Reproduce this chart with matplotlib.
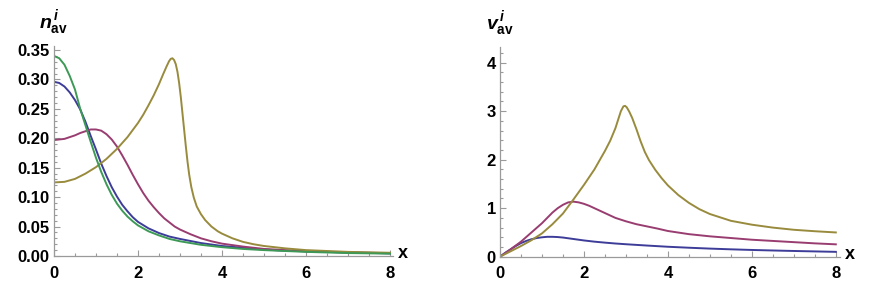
import numpy as np
import matplotlib
matplotlib.use("Agg")
import matplotlib.pyplot as plt
from matplotlib.ticker import MultipleLocator, FormatStrFormatter

plt.rcParams['font.family'] = ['Liberation Sans', 'DejaVu Sans']
plt.rcParams['mathtext.fontset'] = 'custom'
plt.rcParams['mathtext.it'] = 'Liberation Sans:italic:bold'
plt.rcParams['mathtext.rm'] = 'Liberation Sans:bold'
plt.rcParams['mathtext.bf'] = 'Liberation Sans:bold'

# left panel: n_av^i
n_blue_x = [0, 0.125, 0.25, 0.375, 0.5, 0.625, 0.75, 0.875, 1.0, 1.125, 1.25, 1.375, 1.5,
            1.625, 1.75, 1.875, 2.0, 2.25, 2.5, 2.75, 3.0, 3.5, 4, 4.5, 5, 5.5, 6, 7, 8]
n_blue_y = [0.296, 0.294, 0.288, 0.278, 0.265, 0.249, 0.228, 0.204, 0.181, 0.157, 0.136,
            0.117, 0.101, 0.087, 0.076, 0.066, 0.058, 0.047, 0.039, 0.033, 0.029, 0.022,
            0.017, 0.014, 0.011, 0.009, 0.008, 0.006, 0.0045]

n_purple_x = [0, 0.25, 0.5, 0.625, 0.75, 0.875, 1.0, 1.125, 1.25, 1.375, 1.5, 1.625, 1.75,
              1.875, 2.0, 2.125, 2.25, 2.375, 2.5, 2.625, 2.75, 2.875, 3.0, 3.25, 3.5,
              3.75, 4, 4.5, 5, 5.5, 6, 7, 8]
n_purple_y = [0.197, 0.199, 0.205, 0.209, 0.212, 0.215, 0.215, 0.213, 0.207, 0.198, 0.186,
              0.171, 0.155, 0.138, 0.122, 0.107, 0.094, 0.083, 0.073, 0.064, 0.057, 0.050,
              0.045, 0.037, 0.030, 0.025, 0.021, 0.016, 0.012, 0.010, 0.008, 0.006, 0.0048]

n_olive_x = [0, 0.25, 0.5, 0.75, 1.0, 1.25, 1.5, 1.75, 2.0, 2.125, 2.25, 2.375, 2.5, 2.6,
             2.68, 2.74, 2.78, 2.82, 2.86, 2.9, 2.94, 2.98, 3.02, 3.06, 3.1, 3.14, 3.18,
             3.22, 3.27, 3.33, 3.4, 3.5, 3.6, 3.75, 3.9, 4.0, 4.25, 4.5, 4.75, 5.0, 5.5,
             6.0, 7.0, 8.0]
n_olive_y = [0.125, 0.126, 0.131, 0.140, 0.151, 0.165, 0.182, 0.202, 0.226, 0.240, 0.256,
             0.273, 0.292, 0.309, 0.322, 0.331, 0.335, 0.336, 0.333, 0.326, 0.313, 0.294,
             0.270, 0.242, 0.214, 0.186, 0.160, 0.138, 0.117, 0.099, 0.084, 0.071, 0.061,
             0.050, 0.042, 0.038, 0.030, 0.024, 0.020, 0.017, 0.013, 0.010, 0.007, 0.0055]

n_green_x = [0, 0.125, 0.25, 0.375, 0.5, 0.625, 0.75, 0.875, 1.0, 1.125, 1.25, 1.375, 1.5,
             1.625, 1.75, 1.875, 2.0, 2.25, 2.5, 2.75, 3.0, 3.5, 4, 4.5, 5, 5.5, 6, 7, 8]
n_green_y = [0.340, 0.336, 0.325, 0.306, 0.283, 0.250, 0.222, 0.194, 0.167, 0.143, 0.122,
             0.104, 0.089, 0.077, 0.067, 0.059, 0.052, 0.042, 0.035, 0.029, 0.025, 0.019,
             0.015, 0.012, 0.010, 0.0085, 0.007, 0.005, 0.004]

# right panel: v_av^i
v_blue_x = [0, 0.125, 0.25, 0.375, 0.5, 0.625, 0.75, 0.875, 1.0, 1.125, 1.25, 1.375, 1.5,
            1.75, 2.0, 2.25, 2.5, 2.75, 3.0, 3.5, 4, 4.5, 5, 5.5, 6, 6.5, 7, 7.5, 8]
v_blue_y = [0, 0.08, 0.15, 0.22, 0.28, 0.325, 0.36, 0.385, 0.40, 0.41, 0.41, 0.405, 0.395,
            0.365, 0.335, 0.31, 0.29, 0.272, 0.257, 0.23, 0.205, 0.185, 0.167, 0.152,
            0.139, 0.128, 0.118, 0.109, 0.10]

v_purple_x = [0, 0.25, 0.5, 0.75, 1.0, 1.125, 1.25, 1.375, 1.5, 1.625, 1.75, 1.875, 2.0,
              2.125, 2.25, 2.5, 2.75, 3.0, 3.25, 3.5, 3.75, 4.0, 4.5, 5, 5.5, 6, 6.5, 7,
              7.5, 8]
v_purple_y = [0, 0.15, 0.31, 0.50, 0.69, 0.80, 0.91, 1.00, 1.07, 1.12, 1.135, 1.12, 1.09,
              1.05, 1.00, 0.90, 0.80, 0.73, 0.67, 0.625, 0.58, 0.53, 0.465, 0.42, 0.385,
              0.35, 0.325, 0.30, 0.275, 0.255]

v_olive_x = [0, 0.25, 0.5, 0.75, 1.0, 1.25, 1.5, 1.75, 2.0, 2.25, 2.5, 2.625, 2.75, 2.82,
             2.88, 2.94, 2.98, 3.02, 3.08, 3.15, 3.25, 3.35, 3.45, 3.55, 3.7, 3.85, 4.0,
             4.25, 4.5, 4.75, 5.0, 5.5, 6.0, 6.5, 7.0, 7.5, 8.0]
v_olive_y = [0, 0.11, 0.22, 0.34, 0.48, 0.67, 0.89, 1.18, 1.48, 1.80, 2.18, 2.39, 2.65,
             2.84, 3.00, 3.10, 3.11, 3.08, 2.99, 2.86, 2.63, 2.38, 2.16, 1.99, 1.79, 1.62,
             1.47, 1.27, 1.11, 0.98, 0.88, 0.74, 0.66, 0.60, 0.555, 0.525, 0.50]

c_blue = '#3d3d99'
c_purple = '#993d71'
c_olive = '#998b3d'
c_green = '#3d9956'
axis_gray = '#9a9a9a'


def style(ax, xmax, ymax, ymaj, ymin, fmt):
    for s in ['top', 'right']:
        ax.spines[s].set_visible(False)
    for s in ['left', 'bottom']:
        ax.spines[s].set_color(axis_gray)
        ax.spines[s].set_linewidth(0.9)
    ax.set_xlim(0, xmax)
    ax.set_ylim(0, ymax)
    ax.xaxis.set_major_locator(MultipleLocator(2))
    ax.xaxis.set_minor_locator(MultipleLocator(0.5))
    ax.yaxis.set_major_locator(MultipleLocator(ymaj))
    ax.yaxis.set_minor_locator(MultipleLocator(ymin))
    ax.yaxis.set_major_formatter(FormatStrFormatter(fmt))
    ax.tick_params(which='both', direction='in', color=axis_gray, width=0.8)
    ax.tick_params(which='major', length=4.5)
    ax.tick_params(which='minor', length=2.5)
    ax.tick_params(axis='x', which='major', pad=7, labelsize=12)
    ax.tick_params(axis='y', which='major', pad=3, labelsize=12)
    for lab in ax.get_xticklabels() + ax.get_yticklabels():
        lab.set_fontweight('bold')
    ax.text(1.015, 0.01, 'x', transform=ax.transAxes, fontsize=13, fontweight='bold',
            ha='left', va='center')


fig = plt.figure(figsize=(8.89, 2.92), dpi=100)

ax1 = fig.add_axes([0.0607, 0.1233, 0.3813, 0.7195])
ax1.plot(n_blue_x, n_blue_y, color=c_blue, lw=1.4)
ax1.plot(n_purple_x, n_purple_y, color=c_purple, lw=1.4)
ax1.plot(n_olive_x, n_olive_y, color=c_olive, lw=1.4)
ax1.plot(n_green_x, n_green_y, color=c_green, lw=1.4)
style(ax1, 8.07, 0.357, 0.05, 0.01, '%.2f')
ax1.text(0.0, 1.04, r'$n^{\,i}_{\mathrm{av}}$', transform=ax1.transAxes, fontsize=14,
         ha='center', va='bottom')

ax2 = fig.add_axes([0.5624, 0.1209, 0.3825, 0.7192])
ax2.plot(v_blue_x, v_blue_y, color=c_blue, lw=1.4)
ax2.plot(v_purple_x, v_purple_y, color=c_purple, lw=1.4)
ax2.plot(v_olive_x, v_olive_y, color=c_olive, lw=1.4)
style(ax2, 8.1, 4.33, 1, 0.2, '%d')
ax2.text(0.0, 1.04, r'$v^{\,i}_{\mathrm{av}}$', transform=ax2.transAxes, fontsize=14,
         ha='center', va='bottom')

fig.savefig('out.png', dpi=100)
